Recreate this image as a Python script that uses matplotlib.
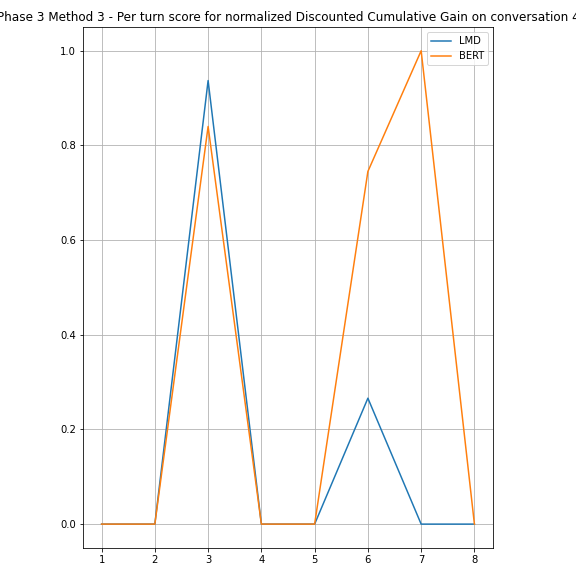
import matplotlib
matplotlib.use("Agg")
import matplotlib.pyplot as plt

turns = [1, 2, 3, 4, 5, 6, 7, 8]
lmd = [0, 0, 0.937, 0, 0, 0.266, 0, 0]
bert = [0, 0, 0.84, 0, 0, 0.745, 1.0, 0]

fig = plt.figure(figsize=(8, 8), dpi=72)
ax = fig.add_axes([0.144, 0.049, 0.712, 0.904])
ax.plot(turns, lmd, label="LMD")
ax.plot(turns, bert, label="BERT")
ax.set_title("Phase 3 Method 3 - Per turn score for normalized Discounted Cumulative Gain on conversation 4")
ax.grid(True)
ax.legend(loc="upper right")
fig.savefig("out.png", dpi=72)
